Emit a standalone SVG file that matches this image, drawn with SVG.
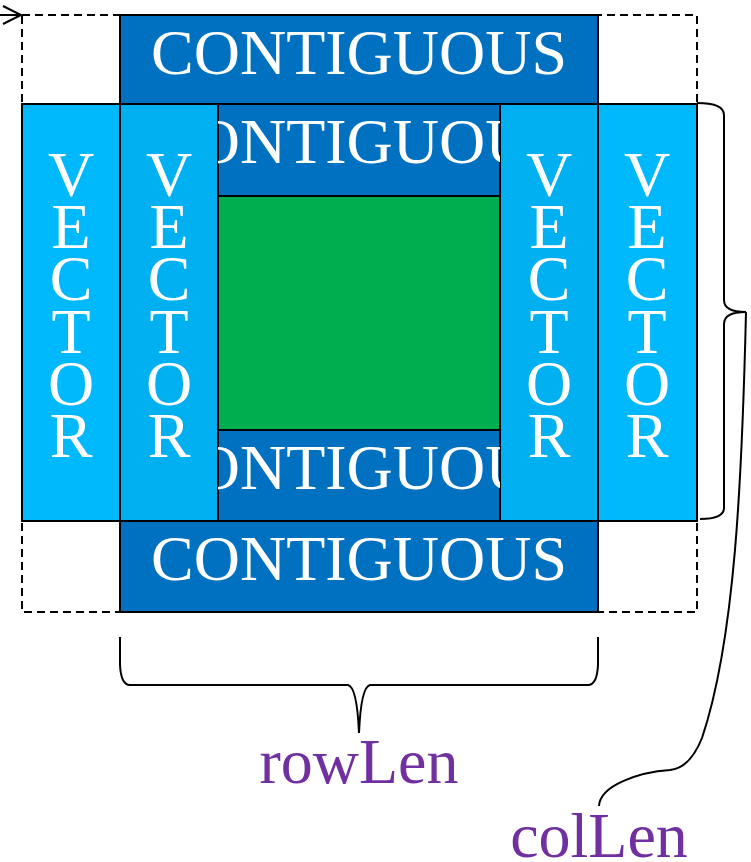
<svg xmlns="http://www.w3.org/2000/svg" width="751" height="862" viewBox="0 0 751 862">
  <style>
    .blk { stroke: #000; stroke-width: 2; }
    .contig { fill: #0070C0; }
    .vecOut { fill: #00B9FC; }
    .vecIn { fill: #00B0F0; }
    .data { fill: #00AE50; }
    .lbl { font-family: "Liberation Serif", "Times New Roman", serif; font-size: 64px; fill: #fff; text-anchor: middle; }
    .dim { font-family: "Liberation Serif", "Times New Roman", serif; font-size: 64px; fill: #7030A0; text-anchor: middle; }
    .wire { fill: none; stroke: #000; stroke-width: 2; }
  </style>
  <defs>
    <clipPath id="clipTop"><rect x="218" y="104" width="282" height="92"/></clipPath>
    <clipPath id="clipBot"><rect x="218" y="430" width="282" height="91"/></clipPath>
    <marker id="open" markerWidth="24" markerHeight="24" refX="20" refY="10" orient="auto" markerUnits="userSpaceOnUse">
      <path d="M2,1 L20,10 L2,19" fill="none" stroke="#000" stroke-width="2"/>
    </marker>
  </defs>

  <!-- halo boundary -->
  <g id="halo">
    <rect x="22" y="15" width="675" height="597" fill="none" stroke="#000" stroke-width="2" stroke-dasharray="8 5"/>
  </g>

  <g id="contig-top-outer">
    <rect class="contig blk" x="120" y="15" width="478" height="89"/>
    <text class="lbl" x="359" y="74">CONTIGUOUS</text>
  </g>
  <g id="contig-bottom-outer">
    <rect class="contig blk" x="120" y="521" width="478" height="91"/>
    <text class="lbl" x="359" y="580">CONTIGUOUS</text>
  </g>

  <g id="vector-left-outer">
    <rect class="vecOut blk" x="22" y="104" width="98" height="417"/>
    <g class="lbl">
      <text x="71" y="196">V</text><text x="71" y="248">E</text><text x="71" y="300">C</text>
      <text x="71" y="353">T</text><text x="71" y="405">O</text><text x="71" y="457">R</text>
    </g>
  </g>
  <g id="vector-left-inner">
    <rect class="vecIn blk" x="120" y="104" width="98" height="417"/>
    <g class="lbl">
      <text x="169" y="196">V</text><text x="169" y="248">E</text><text x="169" y="300">C</text>
      <text x="169" y="353">T</text><text x="169" y="405">O</text><text x="169" y="457">R</text>
    </g>
  </g>
  <g id="vector-right-inner">
    <rect class="vecIn blk" x="500" y="104" width="98" height="417"/>
    <g class="lbl">
      <text x="549" y="196">V</text><text x="549" y="248">E</text><text x="549" y="300">C</text>
      <text x="549" y="353">T</text><text x="549" y="405">O</text><text x="549" y="457">R</text>
    </g>
  </g>
  <g id="vector-right-outer">
    <rect class="vecOut blk" x="598" y="104" width="99" height="417"/>
    <g class="lbl">
      <text x="647" y="196">V</text><text x="647" y="248">E</text><text x="647" y="300">C</text>
      <text x="647" y="353">T</text><text x="647" y="405">O</text><text x="647" y="457">R</text>
    </g>
  </g>

  <g id="contig-top-inner">
    <rect class="contig blk" x="218" y="104" width="282" height="92"/>
    <text class="lbl" x="359" y="163" clip-path="url(#clipTop)">CONTIGUOUS</text>
  </g>
  <g id="interior">
    <rect class="data blk" x="218" y="196" width="282" height="234"/>
  </g>
  <g id="contig-bottom-inner">
    <rect class="contig blk" x="218" y="430" width="282" height="91"/>
    <text class="lbl" x="359" y="489" clip-path="url(#clipBot)">CONTIGUOUS</text>
  </g>

  <g id="rowLen">
    <text class="dim" x="359" y="783">rowLen</text>
  </g>
  <g id="colLen">
    <text class="dim" x="599" y="857">colLen</text>
  </g>

  <g id="connectors">
    <!-- origin arrow -->
    <line class="wire" x1="0" y1="15" x2="21" y2="15" marker-end="url(#open)"/>
    <!-- row brace -->
    <path class="wire" d="M120,637 L120,665 Q121,685 130,685 L348,685 Q357,687 359,733 Q361,687 370,685 L588,685 Q597,685 598,665 L598,637"/>
    <!-- column brace -->
    <path class="wire" d="M697,103 Q724,103 724,115 L724,300 Q724,312 746,312 Q724,312 724,324 L724,508 Q724,519 700,519"/>
    <!-- column leader -->
    <path class="wire" d="M746,312 C742,480 735,640 702,738 Q690,768 670,770 C640,772 600,785 599,806"/>
  </g>
</svg>
